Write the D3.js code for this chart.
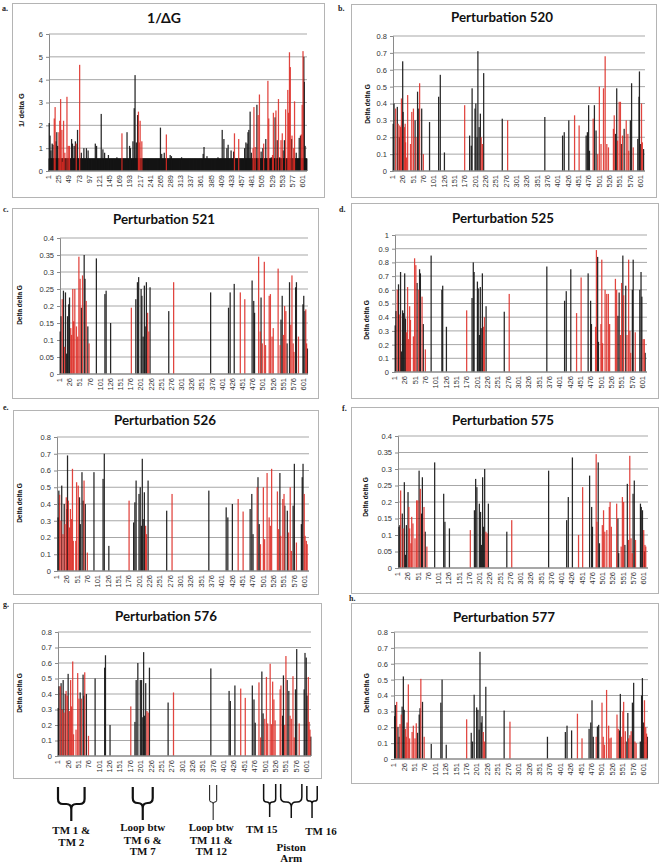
<!DOCTYPE html>
<html><head><meta charset="utf-8">
<script src="https://cdn.jsdelivr.net/npm/d3@7"></script>
<style>body{margin:0;background:#fff}svg{display:block}</style>
</head><body>
<svg id="c" width="661" height="865"></svg>
<script>
// ---------------- DATA ----------------
const N = 610; // residues
const residues = d3.range(1, N + 1);
const xTickLabelsA = [1,25,49,73,97,121,145,169,193,217,241,265,289,313,337,361,385,409,433,457,481,505,529,553,577,601];
const xTickLabels = [1,26,51,76,101,126,151,176,201,226,251,276,301,326,351,376,401,426,451,476,501,526,551,576,601];
const yTicksA = [0,1,2,3,4,5,6];
const yTicks08 = [0,0.1,0.2,0.3,0.4,0.5,0.6,0.7,0.8];
const yTicks04 = [0,0.05,0.1,0.15,0.2,0.25,0.3,0.35,0.4];
const yTicks10 = [0,0.1,0.2,0.3,0.4,0.5,0.6,0.7,0.8,0.9,1];
const titles = ["1/ΔG","Perturbation 520","Perturbation 521","Perturbation 525","Perturbation 526","Perturbation 575","Perturbation 576","Perturbation 577"];
const panelLetters = ["a.","b.","c.","d.","e.","f.","g.","h."];
const yTitles = ["1/ delta G","Delta delta G","Delta delta G","Delta delta G","Delta delta G","Delta delta G","Delta delta G","Delta delta G"];
// panel a: every residue sits at this floor value (solid black band)
const floorA = 0.55;
// [residue, value, colour k=black r=red]
const dataA = [[1,2.1,'k'],[3,1.55,'k'],[5,0.9,'k'],[8,1.2,'k'],[10,1.15,'k'],[13,2.3,'r'],[15,2.8,'r'],[17,1.3,'k'],[19,1.7,'k'],[21,1.1,'k'],[24,1.7,'r'],[26,2.2,'r'],[28,3.15,'r'],[31,1.8,'r'],[32,0.4,'r'],[35,2.2,'r'],[38,0.8,'r'],[43,3.25,'r'],[46,1.1,'r'],[49,1.1,'r'],[54,1.4,'k'],[56,1.2,'k'],[60,1.1,'k'],[63,1.3,'k'],[65,1.2,'r'],[68,1.8,'k'],[73,4.65,'r'],[77,0.8,'k'],[83,1.0,'k'],[89,1.0,'k'],[93,0.9,'k'],[110,1.2,'k'],[113,1.1,'k'],[124,2.5,'k'],[128,0.95,'k'],[132,0.8,'k'],[141,0.7,'k'],[161,0.6,'k'],[173,1.65,'r'],[185,1.7,'k'],[191,1.1,'k'],[193,1.0,'k'],[199,1.3,'k'],[202,2.75,'k'],[204,4.2,'k'],[207,1.25,'k'],[210,2.45,'k'],[212,2.6,'r'],[214,1.25,'r'],[216,2.2,'r'],[220,1.3,'r'],[264,1.9,'k'],[267,0.75,'k'],[273,0.8,'k'],[278,1.6,'r'],[287,0.7,'k'],[290,0.65,'k'],[314,0.6,'k'],[365,0.75,'k'],[367,1.05,'k'],[374,0.65,'k'],[400,0.6,'k'],[410,1.8,'k'],[414,1.4,'k'],[421,1.0,'k'],[424,1.15,'k'],[431,0.9,'k'],[437,0.85,'k'],[439,1.65,'r'],[449,1.4,'r'],[463,1.0,'k'],[466,1.25,'k'],[469,1.2,'k'],[471,1.7,'k'],[473,1.8,'k'],[476,2.6,'k'],[479,0.8,'k'],[483,1.0,'r'],[485,2.8,'r'],[488,1.05,'r'],[492,2.9,'k'],[495,2.45,'r'],[498,3.35,'r'],[502,0.85,'k'],[506,1.0,'k'],[508,1.2,'r'],[513,1.4,'k'],[518,3.95,'r'],[520,2.3,'r'],[526,0.6,'k'],[529,0.7,'r'],[531,2.55,'r'],[535,2.35,'k'],[537,2.65,'r'],[540,1.35,'k'],[543,3.15,'r'],[546,0.6,'k'],[549,1.35,'r'],[552,1.65,'r'],[554,0.9,'k'],[557,1.35,'k'],[560,2.7,'r'],[565,3.55,'r'],[567,2.55,'r'],[569,5.2,'r'],[571,4.55,'r'],[574,1.4,'k'],[575,1.55,'r'],[579,1.0,'r'],[581,3.05,'r'],[585,0.8,'k'],[592,1.45,'k'],[595,1.55,'k'],[597,1.6,'r'],[599,2.9,'r'],[601,5.25,'r'],[603,5.0,'k'],[604,3.9,'k'],[606,1.1,'k']];
const data520 = [[1,0.28,'k'],[3,0.40,'k'],[7,0.37,'r'],[11,0.38,'k'],[13,0.28,'r'],[16,0.20,'k'],[17,0.27,'r'],[19,0.26,'r'],[21,0.43,'r'],[24,0.65,'k'],[25,0.35,'k'],[28,0.26,'r'],[30,0.28,'r'],[31,0.17,'r'],[33,0.08,'r'],[36,0.45,'r'],[43,0.16,'r'],[46,0.35,'r'],[50,0.37,'r'],[54,0.30,'k'],[56,0.20,'r'],[60,0.47,'k'],[63,0.37,'k'],[65,0.52,'r'],[70,0.37,'k'],[74,0.10,'r'],[89,0.29,'k'],[111,0.44,'k'],[115,0.57,'k'],[125,0.11,'k'],[174,0.39,'r'],[186,0.21,'k'],[190,0.15,'k'],[192,0.49,'k'],[199,0.37,'k'],[201,0.40,'k'],[204,0.20,'k'],[206,0.71,'k'],[209,0.26,'k'],[212,0.34,'k'],[214,0.20,'r'],[217,0.16,'r'],[220,0.58,'k'],[265,0.31,'k'],[278,0.30,'r'],[368,0.32,'k'],[411,0.21,'k'],[415,0.23,'k'],[426,0.30,'k'],[440,0.33,'r'],[451,0.27,'r'],[468,0.21,'k'],[471,0.23,'k'],[474,0.39,'k'],[476,0.12,'k'],[485,0.31,'r'],[488,0.39,'k'],[492,0.24,'k'],[496,0.10,'r'],[500,0.50,'r'],[504,0.16,'r'],[510,0.49,'r'],[514,0.68,'r'],[518,0.16,'r'],[522,0.14,'r'],[534,0.25,'r'],[536,0.33,'r'],[539,0.22,'k'],[542,0.49,'k'],[544,0.18,'r'],[548,0.41,'r'],[551,0.41,'r'],[553,0.16,'k'],[556,0.21,'r'],[560,0.25,'k'],[565,0.30,'r'],[569,0.22,'r'],[571,0.12,'r'],[575,0.30,'k'],[578,0.52,'k'],[582,0.14,'r'],[593,0.19,'k'],[596,0.44,'k'],[597,0.59,'k'],[600,0.16,'k'],[602,0.40,'r'],[604,0.17,'r'],[607,0.13,'k']];
const data521 = [[1,0.125,'k'],[3,0.17,'k'],[6,0.22,'r'],[9,0.245,'k'],[12,0.08,'r'],[14,0.24,'k'],[17,0.06,'k'],[19,0.17,'k'],[22,0.205,'k'],[24,0.225,'k'],[27,0.135,'r'],[29,0.115,'r'],[32,0.25,'r'],[34,0.155,'r'],[37,0.25,'r'],[41,0.14,'r'],[44,0.11,'r'],[47,0.345,'r'],[50,0.28,'r'],[53,0.195,'k'],[56,0.29,'r'],[60,0.35,'k'],[62,0.28,'k'],[65,0.215,'r'],[69,0.14,'k'],[72,0.09,'r'],[90,0.34,'k'],[111,0.235,'k'],[114,0.245,'k'],[125,0.15,'k'],[176,0.195,'r'],[187,0.22,'k'],[191,0.27,'k'],[194,0.285,'k'],[200,0.25,'k'],[202,0.23,'k'],[205,0.11,'k'],[208,0.26,'k'],[210,0.14,'k'],[213,0.27,'k'],[216,0.18,'r'],[219,0.125,'r'],[222,0.255,'k'],[268,0.185,'k'],[280,0.27,'r'],[371,0.24,'k'],[415,0.195,'k'],[419,0.24,'k'],[429,0.265,'k'],[444,0.24,'r'],[455,0.22,'r'],[473,0.275,'k'],[477,0.215,'k'],[479,0.18,'k'],[489,0.345,'r'],[493,0.125,'r'],[495,0.225,'k'],[498,0.09,'r'],[503,0.33,'r'],[506,0.085,'r'],[515,0.23,'r'],[518,0.235,'r'],[522,0.11,'r'],[525,0.135,'r'],[537,0.31,'r'],[542,0.085,'r'],[544,0.16,'k'],[547,0.23,'k'],[550,0.115,'r'],[553,0.2,'r'],[556,0.185,'r'],[559,0.09,'k'],[565,0.27,'k'],[568,0.145,'r'],[571,0.29,'r'],[574,0.09,'r'],[576,0.065,'r'],[580,0.255,'k'],[582,0.27,'k'],[587,0.11,'r'],[598,0.205,'k'],[600,0.23,'k'],[603,0.185,'k'],[605,0.19,'r'],[607,0.09,'r'],[609,0.075,'k']];
const data525 = [[1,0.34,'k'],[3,0.445,'k'],[6,0.6,'r'],[9,0.64,'k'],[12,0.42,'r'],[14,0.73,'k'],[16,0.15,'k'],[19,0.45,'k'],[21,0.43,'k'],[24,0.72,'k'],[26,0.39,'k'],[28,0.29,'r'],[31,0.62,'r'],[33,0.24,'r'],[36,0.48,'r'],[38,0.38,'r'],[45,0.26,'r'],[48,0.83,'r'],[51,0.78,'r'],[54,0.65,'k'],[58,0.6,'r'],[60,0.75,'k'],[62,0.72,'k'],[66,0.55,'r'],[69,0.35,'k'],[74,0.165,'r'],[88,0.85,'k'],[114,0.6,'k'],[116,0.63,'k'],[125,0.33,'k'],[174,0.45,'r'],[187,0.54,'k'],[190,0.8,'k'],[192,0.73,'k'],[200,0.66,'k'],[202,0.61,'k'],[205,0.27,'k'],[207,0.62,'k'],[209,0.32,'k'],[212,0.72,'k'],[215,0.33,'r'],[217,0.4,'r'],[221,0.48,'k'],[265,0.44,'k'],[277,0.57,'r'],[368,0.77,'k'],[411,0.52,'k'],[415,0.59,'k'],[426,0.75,'k'],[440,0.43,'r'],[451,0.69,'r'],[468,0.72,'k'],[474,0.52,'k'],[476,0.35,'k'],[486,0.33,'r'],[488,0.89,'r'],[491,0.84,'k'],[493,0.22,'k'],[499,0.35,'r'],[501,0.82,'r'],[503,0.21,'r'],[509,0.6,'r'],[513,0.57,'r'],[517,0.57,'r'],[520,0.35,'r'],[534,0.68,'r'],[537,0.6,'r'],[540,0.41,'k'],[543,0.58,'k'],[546,0.27,'r'],[549,0.65,'r'],[552,0.85,'k'],[554,0.56,'r'],[559,0.63,'k'],[562,0.27,'r'],[566,0.82,'r'],[569,0.3,'r'],[571,0.14,'r'],[575,0.6,'k'],[577,0.82,'k'],[582,0.29,'r'],[593,0.6,'k'],[596,0.73,'k'],[598,0.55,'k'],[601,0.24,'r'],[604,0.24,'r'],[606,0.14,'k']];
const data526 = [[3,0.32,'k'],[5,0.48,'k'],[7,0.455,'r'],[10,0.30,'r'],[12,0.51,'k'],[15,0.22,'r'],[18,0.40,'k'],[20,0.28,'r'],[23,0.44,'r'],[24,0.37,'k'],[26,0.69,'k'],[28,0.42,'r'],[31,0.26,'r'],[33,0.37,'r'],[36,0.31,'r'],[38,0.61,'r'],[40,0.18,'r'],[46,0.18,'r'],[48,0.53,'r'],[52,0.51,'r'],[55,0.44,'k'],[57,0.28,'k'],[61,0.59,'k'],[64,0.42,'k'],[66,0.54,'r'],[69,0.40,'k'],[74,0.11,'r'],[90,0.59,'k'],[112,0.55,'k'],[115,0.70,'k'],[126,0.15,'k'],[175,0.42,'r'],[186,0.29,'k'],[189,0.41,'k'],[192,0.54,'k'],[199,0.46,'k'],[202,0.50,'k'],[205,0.27,'k'],[207,0.67,'k'],[209,0.31,'k'],[212,0.47,'k'],[215,0.27,'r'],[217,0.22,'r'],[221,0.54,'k'],[266,0.36,'k'],[279,0.46,'r'],[368,0.48,'k'],[410,0.38,'k'],[414,0.32,'k'],[425,0.40,'k'],[439,0.43,'r'],[451,0.355,'r'],[468,0.37,'k'],[472,0.46,'k'],[475,0.22,'k'],[485,0.5,'r'],[487,0.56,'k'],[490,0.28,'k'],[493,0.16,'r'],[500,0.5,'r'],[503,0.19,'r'],[509,0.585,'r'],[514,0.32,'r'],[517,0.27,'r'],[520,0.61,'r'],[534,0.475,'r'],[537,0.25,'r'],[540,0.585,'k'],[542,0.21,'r'],[547,0.43,'r'],[550,0.46,'r'],[552,0.39,'k'],[558,0.36,'k'],[561,0.23,'r'],[565,0.5,'r'],[568,0.12,'r'],[572,0.39,'k'],[575,0.64,'k'],[580,0.17,'r'],[592,0.28,'k'],[594,0.56,'k'],[596,0.64,'k'],[599,0.46,'r'],[601,0.21,'r'],[604,0.18,'r'],[606,0.16,'r']];
const data575 = [[3,0.125,'k'],[5,0.13,'k'],[7,0.235,'r'],[11,0.165,'k'],[13,0.12,'r'],[16,0.26,'k'],[19,0.04,'k'],[21,0.13,'k'],[25,0.23,'k'],[27,0.185,'r'],[29,0.12,'r'],[32,0.075,'r'],[34,0.155,'r'],[37,0.135,'r'],[42,0.09,'r'],[46,0.205,'r'],[49,0.205,'r'],[52,0.295,'k'],[55,0.24,'r'],[58,0.165,'k'],[60,0.275,'k'],[64,0.185,'r'],[67,0.11,'k'],[71,0.065,'r'],[90,0.32,'k'],[112,0.225,'k'],[115,0.14,'k'],[126,0.12,'k'],[177,0.115,'r'],[187,0.175,'k'],[190,0.27,'k'],[193,0.245,'k'],[199,0.195,'k'],[202,0.17,'k'],[204,0.07,'k'],[207,0.275,'k'],[209,0.125,'k'],[212,0.30,'k'],[215,0.11,'r'],[218,0.105,'r'],[221,0.195,'k'],[266,0.11,'k'],[278,0.145,'r'],[368,0.295,'k'],[412,0.145,'k'],[416,0.215,'k'],[426,0.335,'k'],[441,0.10,'r'],[451,0.245,'r'],[468,0.28,'k'],[473,0.185,'k'],[475,0.125,'k'],[484,0.345,'r'],[486,0.14,'r'],[489,0.32,'k'],[492,0.075,'k'],[499,0.13,'r'],[502,0.175,'r'],[505,0.11,'r'],[510,0.115,'r'],[516,0.185,'r'],[518,0.20,'r'],[521,0.125,'r'],[534,0.195,'r'],[537,0.15,'k'],[539,0.045,'k'],[545,0.065,'r'],[548,0.215,'r'],[551,0.20,'r'],[554,0.07,'k'],[560,0.255,'k'],[563,0.085,'r'],[566,0.34,'r'],[569,0.09,'r'],[572,0.045,'r'],[574,0.225,'k'],[577,0.265,'k'],[580,0.085,'r'],[592,0.195,'k'],[594,0.185,'k'],[597,0.175,'k'],[600,0.115,'r'],[602,0.05,'k'],[603,0.07,'r'],[605,0.065,'r']];
const data576 = [[1,0.31,'k'],[3,0.45,'k'],[6,0.45,'r'],[8,0.47,'k'],[11,0.30,'r'],[13,0.49,'k'],[15,0.28,'r'],[18,0.40,'k'],[20,0.42,'r'],[23,0.39,'r'],[25,0.53,'k'],[28,0.29,'r'],[31,0.49,'r'],[33,0.32,'r'],[36,0.61,'r'],[38,0.14,'r'],[44,0.17,'r'],[48,0.535,'r'],[51,0.37,'r'],[54,0.41,'k'],[57,0.37,'r'],[61,0.525,'k'],[63,0.39,'k'],[65,0.54,'r'],[69,0.40,'k'],[74,0.13,'r'],[90,0.50,'k'],[113,0.57,'k'],[115,0.65,'k'],[126,0.20,'k'],[176,0.32,'r'],[186,0.22,'k'],[189,0.49,'k'],[193,0.60,'k'],[199,0.49,'k'],[202,0.49,'k'],[205,0.25,'k'],[207,0.67,'k'],[209,0.26,'k'],[212,0.47,'k'],[215,0.29,'r'],[218,0.28,'r'],[221,0.57,'k'],[266,0.345,'k'],[279,0.41,'r'],[369,0.565,'k'],[413,0.42,'k'],[416,0.355,'k'],[427,0.455,'k'],[441,0.435,'r'],[452,0.375,'r'],[469,0.455,'k'],[473,0.365,'k'],[476,0.215,'k'],[485,0.475,'r'],[489,0.12,'r'],[492,0.545,'k'],[495,0.275,'k'],[499,0.24,'r'],[503,0.51,'r'],[506,0.21,'r'],[512,0.595,'r'],[515,0.205,'r'],[518,0.48,'r'],[521,0.365,'r'],[524,0.23,'r'],[536,0.43,'r'],[538,0.455,'r'],[542,0.26,'k'],[544,0.52,'k'],[547,0.20,'r'],[550,0.645,'r'],[553,0.49,'k'],[557,0.42,'k'],[560,0.26,'r'],[563,0.24,'r'],[567,0.515,'r'],[570,0.12,'r'],[573,0.43,'k'],[576,0.69,'k'],[582,0.21,'r'],[594,0.43,'k'],[596,0.665,'k'],[599,0.635,'k'],[601,0.39,'k'],[604,0.51,'r'],[606,0.22,'r'],[608,0.17,'r'],[610,0.125,'k']];
const data577 = [[2,0.27,'k'],[4,0.34,'k'],[7,0.36,'r'],[10,0.20,'k'],[13,0.14,'k'],[15,0.22,'r'],[18,0.28,'r'],[20,0.33,'k'],[23,0.52,'k'],[25,0.31,'k'],[28,0.19,'r'],[30,0.14,'r'],[32,0.23,'r'],[35,0.47,'r'],[38,0.13,'r'],[44,0.17,'r'],[47,0.21,'r'],[51,0.13,'r'],[54,0.225,'r'],[57,0.165,'k'],[61,0.28,'k'],[63,0.32,'k'],[65,0.505,'r'],[69,0.36,'k'],[73,0.14,'r'],[90,0.095,'k'],[113,0.355,'k'],[116,0.50,'k'],[126,0.09,'k'],[175,0.25,'r'],[186,0.165,'k'],[189,0.11,'k'],[193,0.405,'k'],[199,0.325,'k'],[202,0.31,'k'],[205,0.185,'k'],[207,0.675,'k'],[210,0.23,'k'],[212,0.27,'k'],[215,0.17,'r'],[218,0.11,'r'],[221,0.455,'k'],[265,0.305,'k'],[279,0.235,'r'],[369,0.14,'k'],[412,0.17,'k'],[416,0.21,'k'],[427,0.18,'k'],[441,0.285,'r'],[452,0.13,'r'],[469,0.19,'k'],[473,0.23,'k'],[476,0.37,'k'],[479,0.14,'k'],[486,0.14,'r'],[489,0.205,'k'],[492,0.215,'k'],[500,0.355,'r'],[503,0.14,'r'],[506,0.09,'r'],[511,0.435,'r'],[516,0.21,'r'],[519,0.13,'r'],[522,0.135,'r'],[536,0.28,'r'],[539,0.19,'r'],[542,0.18,'k'],[544,0.41,'k'],[547,0.14,'r'],[550,0.30,'r'],[552,0.36,'r'],[556,0.175,'r'],[558,0.11,'k'],[562,0.29,'k'],[564,0.13,'r'],[567,0.15,'r'],[570,0.175,'r'],[573,0.355,'k'],[576,0.48,'k'],[579,0.11,'r'],[582,0.10,'r'],[592,0.11,'k'],[595,0.40,'k'],[597,0.51,'k'],[600,0.23,'k'],[602,0.37,'r'],[605,0.20,'r'],[607,0.16,'r'],[609,0.14,'k']];
// protein regions marked under panel g (residue spans)
const regionNames = [["TM 1 &","TM 2"],["Loop btw","TM 6 &","TM 7"],["Loop btw","TM 11 &","TM 12"],["TM 15"],["Piston","Arm"],["TM 16"]];
const regionSpans = [[1,65],[181,229],[366,383],[496,525],[537,588],[600,625]];

// ---------------- LAYOUT ----------------
const panels = [
  {data:dataA, floor:floorA, ticks:yTicksA, xt:xTickLabelsA, frame:[12,3,324,197], plot:[49,307,34,171], title:[164,23], yl:[22,110], let:[2,11]},
  {data:data520, ticks:yTicks08, xt:xTickLabels, frame:[351,4,656,197], plot:[393,645,36,171], title:[502,22], yl:[368,104], let:[338,11]},
  {data:data521, ticks:yTicks04, xt:xTickLabels, frame:[12,208,318,398], plot:[60,308,238,374], title:[164,224], yl:[20,305], let:[3,212]},
  {data:data525, ticks:yTicks10, xt:xTickLabels, frame:[351,203,658,398], plot:[395,647,235,372], title:[503,223], yl:[367,320], let:[339,212]},
  {data:data526, ticks:yTicks08, xt:xTickLabels, frame:[13,410,318,594], plot:[57,309,437,571], title:[165,425], yl:[20,503], let:[3,410]},
  {data:data575, ticks:yTicks04, xt:xTickLabels, frame:[351,407,658,593], plot:[398,648,436,568], title:[503,425], yl:[366,497], let:[342,411]},
  {data:data576, ticks:yTicks08, xt:xTickLabels, frame:[13,603,321,778], plot:[58,311,632,756], title:[166,621], yl:[20,693], let:[3,607]},
  {data:data577, ticks:yTicks08, xt:xTickLabels, frame:[351,603,658,783], plot:[394,648,632,759], title:[504,622], yl:[367,693], let:[349,601]}
];
const BLACK = "#151515", RED = "#dd2b24";
const svg = d3.select("#c");
const fmt = v => String(+v.toFixed(2));
let scaleG = null;

panels.forEach((p, i) => {
  const [fx0, fy0, fx1, fy1] = p.frame;
  const [px0, px1, pyTop, pyBot] = p.plot;
  const g = svg.append("g");
  g.append("rect").attr("x", fx0 + 0.5).attr("y", fy0 + 0.5).attr("width", fx1 - fx0).attr("height", fy1 - fy0)
    .attr("fill", "#fff").attr("stroke", "#b4b4b4").attr("stroke-width", 1);
  svg.append("text").attr("x", p.let[0]).attr("y", p.let[1]).text(panelLetters[i])
    .attr("font-family", "Liberation Serif").attr("font-weight", "bold").attr("font-size", 8).attr("fill", "#222");
  const x = d3.scaleBand().domain(residues).range([px0, px1]).paddingInner(0.1);
  if (i === 6) scaleG = x;
  const yMax = p.ticks[p.ticks.length - 1];
  const y = d3.scaleLinear().domain([0, yMax]).range([pyBot, pyTop]);
  // gridlines
  g.selectAll("line.grid").data(p.ticks.filter(t => t > 0)).join("line")
    .attr("x1", px0).attr("x2", px1).attr("y1", d => y(d)).attr("y2", d => y(d))
    .attr("stroke", "#9d9d9d").attr("stroke-width", 0.9);
  // y axis
  const ya = g.append("g").attr("transform", `translate(${px0},0)`)
    .call(d3.axisLeft(y).tickValues(p.ticks).tickFormat(fmt).tickSize(3).tickPadding(3));
  ya.select(".domain").attr("stroke", "#8a8a8a");
  ya.selectAll(".tick line").attr("stroke", "#8a8a8a");
  ya.selectAll("text").attr("font-family", "Liberation Sans").attr("font-size", 7.5).attr("fill", "#333");
  // y title
  g.append("text").attr("transform", `translate(${p.yl[0]},${p.yl[1]}) rotate(-90)`)
    .attr("text-anchor", "middle").attr("dominant-baseline", "middle").text(yTitles[i])
    .attr("font-family", "Liberation Sans").attr("font-weight", "bold").attr("font-size", i === 0 ? 7.5 : 6.5).attr("fill", "#111");
  // title
  const t = g.append("text").attr("x", p.title[0]).attr("y", p.title[1]).attr("text-anchor", "middle")
    .text(titles[i]).attr("font-family", "Lato").attr("font-weight", "bold").attr("font-size", i === 0 ? 14 : 13).attr("fill", "#111");
  if (i > 0) t.attr("textLength", 102).attr("lengthAdjust", "spacingAndGlyphs");
  // bars
  const bw = Math.max(x.bandwidth(), 1.25);
  const cx = r => x(r) + x.bandwidth() / 2 - bw / 2;
  const bars = g.append("g");
  if (p.floor !== undefined) {
    bars.selectAll("rect.floor").data(residues).join("rect")
      .attr("x", d => cx(d)).attr("width", bw).attr("y", y(p.floor)).attr("height", y(0) - y(p.floor))
      .attr("fill", BLACK);
  }
  const ordered = p.data.filter(d => d[2] === 'k').concat(p.data.filter(d => d[2] === 'r'));
  bars.selectAll("rect.bar").data(ordered).join("rect")
    .attr("x", d => cx(d[0])).attr("width", bw)
    .attr("y", d => y(d[1])).attr("height", d => y(0) - y(d[1]))
    .attr("fill", d => d[2] === 'r' ? RED : BLACK)
    .attr("fill-opacity", d => d[2] === 'r' ? 0.88 : 0.92);
  // x axis line
  g.append("line").attr("x1", px0).attr("x2", px1).attr("y1", pyBot).attr("y2", pyBot)
    .attr("stroke", "#8a8a8a").attr("stroke-width", 1.6);
  // x tick labels
  g.selectAll("text.xt").data(p.xt).join("text")
    .attr("transform", d => `translate(${x(d) + x.bandwidth() / 2},${pyBot + 4}) rotate(-90)`)
    .attr("text-anchor", "end").attr("dominant-baseline", "middle").text(d => d)
    .attr("font-family", "Liberation Sans").attr("font-size", 7.5).attr("fill", "#333");
});

// ---------------- REGION BRACKETS ----------------
const bracketGeom = [
  {top:787, mid:804, bot:821, sw:2.2, lx:0, ly:[834,846]},
  {top:787, mid:803, bot:820, sw:2.2, lx:0, ly:[831,844,855]},
  {top:785, mid:802, bot:820, sw:1.0, lx:-2, ly:[831,844,855]},
  {top:784, mid:802, bot:817, sw:1.5, lx:-8, ly:[833]},
  {top:784, mid:802, bot:818, sw:1.5, lx:0, ly:[851,862]},
  {top:786, mid:801, bot:818, sw:1.5, lx:9, ly:[835]}
];
const lin = d3.scaleLinear().domain([1, N]).range([scaleG(1), scaleG(N) + scaleG.bandwidth()]);
regionSpans.forEach((s, i) => {
  const b = bracketGeom[i];
  const x0 = lin(s[0]), x1 = lin(s[1]), xc = (x0 + x1) / 2;
  const r = Math.min(5, (x1 - x0) / 4);
  const path = d3.path();
  path.moveTo(x0, b.top); path.lineTo(x0, b.mid - r);
  path.quadraticCurveTo(x0, b.mid, x0 + r, b.mid); path.lineTo(xc - r, b.mid);
  path.quadraticCurveTo(xc, b.mid, xc, b.mid + r); path.lineTo(xc, b.bot);
  path.moveTo(x1, b.top); path.lineTo(x1, b.mid - r);
  path.quadraticCurveTo(x1, b.mid, x1 - r, b.mid); path.lineTo(xc + r, b.mid);
  path.quadraticCurveTo(xc, b.mid, xc, b.mid + r);
  svg.append("path").attr("d", path.toString()).attr("fill", "none")
    .attr("stroke", "#111").attr("stroke-width", b.sw).attr("stroke-linejoin", "round");
  regionNames[i].forEach((line, j) => {
    svg.append("text").attr("x", xc + b.lx).attr("y", b.ly[j]).attr("text-anchor", "middle").text(line)
      .attr("font-family", "Liberation Serif").attr("font-weight", "bold").attr("font-size", 11).attr("fill", "#111");
  });
});
</script>
</body></html>
